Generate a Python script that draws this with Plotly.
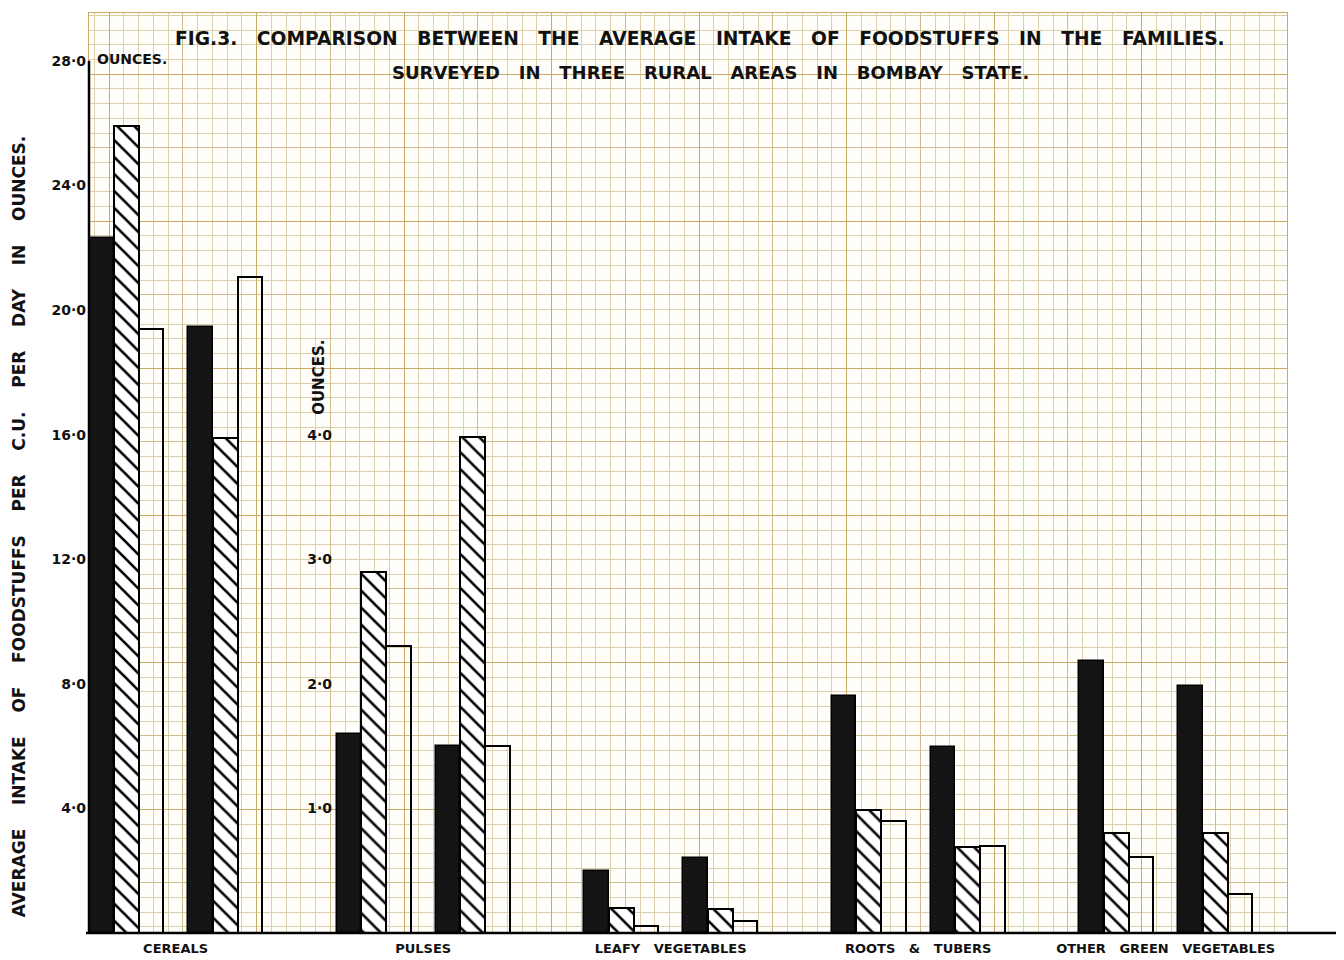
import plotly.graph_objects as go

# ---------------- data ----------------
categories = ["CEREALS", "PULSES", "LEAFY   VEGETABLES", "ROOTS   &   TUBERS", "OTHER   GREEN   VEGETABLES"]
# Cereals on the left scale (0-28 oz); the other foods on the inner scale (0-4 oz)
black_1 = [22.3, 1.60, 0.50, 1.90, 2.18]
hatched_1 = [25.9, 2.90, 0.20, 0.99, 0.80]
white_1 = [19.4, 2.30, 0.06, 0.90, 0.61]
black_2 = [19.45, 1.50, 0.60, 1.49, 1.98]
hatched_2 = [15.9, 3.98, 0.19, 0.69, 0.80]
white_2 = [21.05, 1.50, 0.10, 0.70, 0.31]

left_ticks = [4, 8, 12, 16, 20, 24, 28]
left_ticktext = ["4·0", "8·0", "12·0", "16·0", "20·0", "24·0", "28·0"]
inner_ticks = [1, 2, 3, 4]
inner_ticktext = ["1·0", "2·0", "3·0", "4·0"]

title_1 = "FIG.3.   COMPARISON   BETWEEN   THE   AVERAGE   INTAKE   OF   FOODSTUFFS   IN   THE   FAMILIES."
title_2 = "SURVEYED   IN   THREE   RURAL   AREAS   IN   BOMBAY   STATE."
y_title = "AVERAGE    INTAKE    OF    FOODSTUFFS    PER    C.U.    PER    DAY    IN    OUNCES."

# ---------------- geometry (screen pixels; page body has an 8px margin) ----------------
OFF = 8
SW, SH = 1344, 960
W, H = SW - OFF, SH - OFF
L, R, T, B = 89, 1287, 12, 935
slot_px = 24.75
unit_left_px = 31.25          # px per ounce, left scale
unit_inner_px = 125.0         # px per ounce, inner scale
grid_px = 14.75
plot_w, plot_h = R - L, B - T

FONT = "DejaVu Sans"
minor_col = "#dccfae"
mid_col = "#d0bd8c"
major_col = "#c9ab66"

fig = go.Figure()

# dummy traces so the graph-paper axes get drawn
fig.add_trace(go.Scatter(x=[None], y=[None], xaxis="x", yaxis="y", showlegend=False, hoverinfo="skip"))
fig.add_trace(go.Scatter(x=[None], y=[None], xaxis="x3", yaxis="y4", showlegend=False, hoverinfo="skip"))

styles = {
    "black": dict(color="#141414", line=dict(color="#000", width=1.5)),
    "hatched": dict(color="white", line=dict(color="#000", width=2),
                    pattern=dict(shape="\\", fgcolor="#000", fgopacity=1, bgcolor="white",
                                 size=12, solidity=0.22)),
    "white": dict(color="rgba(255,255,255,0)", line=dict(color="#000", width=2)),
}
series = [("black", 0, black_1), ("hatched", 1, hatched_1), ("white", 2, white_1),
          ("black", 4, black_2), ("hatched", 5, hatched_2), ("white", 6, white_2)]

for style, slot, vals in series:
    # cereals: left scale
    fig.add_trace(go.Bar(x=[slot + 0.5], y=vals[:1], width=1, xaxis="x2", yaxis="y2",
                         marker=styles[style], showlegend=False, hoverinfo="skip"))
    # others: inner scale
    xs = [10 * (i + 1) + slot + 0.5 for i in range(len(vals) - 1)]
    fig.add_trace(go.Bar(x=xs, y=vals[1:], width=1, xaxis="x2", yaxis="y3",
                         marker=styles[style], showlegend=False, hoverinfo="skip"))

gx0 = -(109 - L) / grid_px
gy0 = 1.59
fig.update_layout(
    width=W, height=H,
    margin=dict(l=L - OFF, r=SW - R, t=T - OFF, b=SH - B, pad=0),
    paper_bgcolor="white", plot_bgcolor="#fffefa",
    barmode="overlay", bargap=0,
    xaxis=dict(domain=[0, 1], range=[gx0, gx0 + plot_w / grid_px], tick0=0, dtick=5,
               showgrid=True, gridcolor=mid_col, gridwidth=1,
               minor=dict(dtick=1, tick0=0, showgrid=True, gridcolor=minor_col, gridwidth=0.9),
               showticklabels=False, zeroline=False, showline=True, mirror=True,
               linecolor=major_col, linewidth=1.3, fixedrange=True),
    yaxis=dict(domain=[0, 1], range=[gy0, gy0 + plot_h / grid_px], tick0=0, dtick=5,
               showgrid=True, gridcolor=mid_col, gridwidth=1,
               minor=dict(dtick=1, tick0=0, showgrid=True, gridcolor=minor_col, gridwidth=0.9),
               showticklabels=False, zeroline=False, showline=True, mirror=True,
               linecolor=major_col, linewidth=1.3, fixedrange=True),
    xaxis3=dict(overlaying="x", anchor="y4", range=[gx0, gx0 + plot_w / grid_px], tick0=0, dtick=10,
                showgrid=True, gridcolor=major_col, gridwidth=1.2, showticklabels=False,
                zeroline=False, showline=False),
    yaxis4=dict(overlaying="y", anchor="x3", range=[gy0, gy0 + plot_h / grid_px], tick0=0, dtick=10,
                showgrid=True, gridcolor=major_col, gridwidth=1.2, showticklabels=False,
                zeroline=False, showline=False),
    xaxis2=dict(overlaying="x", anchor="y2", range=[0, plot_w / slot_px], showgrid=False,
                zeroline=False, showline=False, ticks="",
                tickvals=[10 * i + 3.5 for i in range(len(categories))], ticktext=categories,
                tickfont=dict(family=FONT, size=13, color="#111", weight="bold"), ticklabelstandoff=6),
    yaxis2=dict(overlaying="y", anchor="x2", side="left", range=[0, plot_h / unit_left_px],
                showgrid=False, zeroline=False, showline=False, ticks="",
                tickvals=left_ticks, ticktext=left_ticktext,
                tickfont=dict(family=FONT, size=14, color="#111", weight="bold"), ticklabelstandoff=2),
    yaxis3=dict(overlaying="y", anchor="free", position=(333 - L) / plot_w, side="left",
                range=[0, plot_h / unit_inner_px], showgrid=False, zeroline=False, showline=False,
                ticks="", tickvals=inner_ticks, ticktext=inner_ticktext,
                tickfont=dict(family=FONT, size=14, color="#111", weight="bold"), ticklabelstandoff=1),
)

def px_x(p):
    return (p - L) / plot_w

def px_y(p):
    return (B - p) / plot_h

# axis lines (left scale line and baseline)
fig.add_shape(type="line", xref="paper", yref="paper", x0=px_x(89), x1=px_x(89),
              y0=0, y1=px_y(60), line=dict(color="#000", width=2.5), layer="above")
fig.add_shape(type="line", xref="paper", yref="paper", x0=px_x(86), x1=px_x(1344),
              y0=0, y1=0, line=dict(color="#000", width=2.5), layer="above")

for text, cx, cy, fs in [(title_1, 700, 38, 18.7), (title_2, 710, 72, 18)]:
    fig.add_annotation(xref="paper", yref="paper", showarrow=False, xanchor="center", yanchor="middle",
                       text=text, x=px_x(cx), y=px_y(cy),
                       font=dict(family=FONT, size=fs, color="#111", weight="bold"))
fig.add_annotation(xref="paper", yref="paper", showarrow=False, text="OUNCES.", x=px_x(95), y=px_y(58),
                   xanchor="left", yanchor="middle",
                   font=dict(family=FONT, size=14, color="#111", weight="bold"))
fig.add_annotation(xref="paper", yref="paper", showarrow=False, text="OUNCES.", x=px_x(319), y=px_y(378),
                   xanchor="center", yanchor="middle", textangle=-90,
                   font=dict(family=FONT, size=15, color="#111", weight="bold"))
fig.add_annotation(xref="paper", yref="paper", showarrow=False, text=y_title, x=px_x(19), y=px_y(527),
                   xanchor="center", yanchor="middle", textangle=-90,
                   font=dict(family=FONT, size=17, color="#111", weight="bold"))

fig.write_html("out.html")
